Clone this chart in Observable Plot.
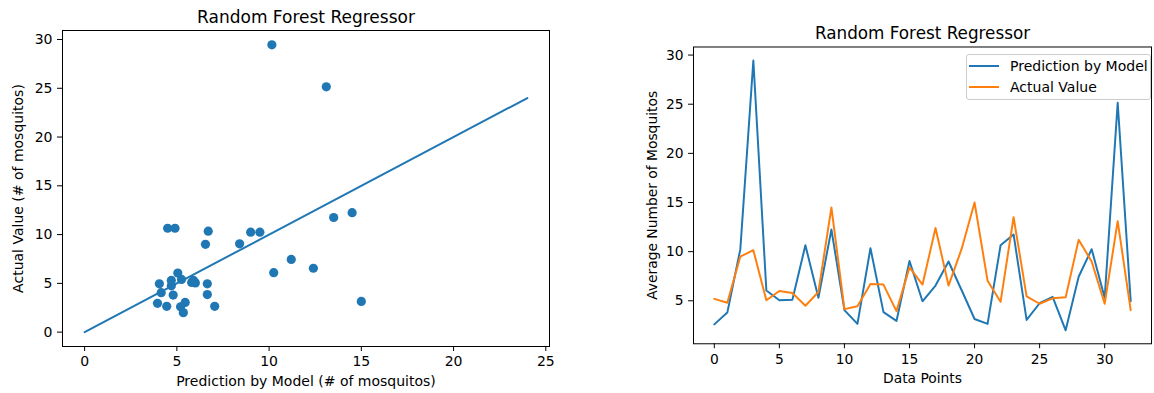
<!DOCTYPE html>
<html><head><meta charset="utf-8">
<script src="https://cdn.jsdelivr.net/npm/d3@7"></script>
<script src="https://cdn.jsdelivr.net/npm/@observablehq/plot@0.6"></script>
<style>
html,body{margin:0;padding:0;background:#fff;width:1154px;height:393px;overflow:hidden;}
#wrap{position:relative;width:1154px;height:393px;overflow:hidden;font-family:"DejaVu Sans",sans-serif;}
#left{position:absolute;left:0;top:0;}
#right{position:absolute;left:600px;top:0;}
#legend{position:absolute;left:966px;top:54px;width:185px;height:46px;box-sizing:border-box;border:1px solid #cccccc;border-radius:3px;background:rgba(255,255,255,0.8);font-size:14px;color:#000;}
.item{position:absolute;left:2px;height:20px;display:flex;align-items:center;white-space:nowrap;}
.item svg{margin-right:11px;}
</style></head>
<body><div id="wrap"><div id="left"></div><div id="right"></div><div id="legend"></div></div>
<script>
const title = "Random Forest Regressor";
const dataPoints = [0,1,2,3,4,5,6,7,8,9,10,11,12,13,14,15,16,17,18,19,20,21,22,23,24,25,26,27,28,29,30,31,32];
const prediction = [2.6,3.8,10.25,29.45,6.05,5.05,5.1,10.65,5.3,12.25,4.05,2.65,10.35,3.85,2.95,9.05,4.95,6.55,9.0,6.1,3.15,2.65,10.65,11.75,3.05,4.75,5.4,2.0,7.45,10.25,5.3,25.15,4.95];
const actual = [5.2,4.8,9.5,10.15,5.05,6.0,5.8,4.5,5.9,14.5,4.15,4.45,6.7,6.65,3.95,8.4,6.65,12.4,6.55,10.25,15.0,7.05,4.9,13.5,5.45,4.7,5.25,5.35,11.2,9.0,4.7,13.1,4.05];
const seriesNames = ["Prediction by Model", "Actual Value"];
const seriesColors = ["#1f77b4", "#ff7f0e"];
const identityX = [0, 24];
const identityY = [0, 24];
const scatterXTicks = [0,5,10,15,20,25];
const scatterYTicks = [0,5,10,15,20,25,30];
const lineXTicks = [0,5,10,15,20,25,30];
const lineYTicks = [5,10,15,20,25,30];

const pad = (vals) => { const [a,b] = d3.extent(vals); const r = b - a; return [a - 0.05*r, b + 0.05*r]; };
const baseStyle = {fontFamily: "DejaVu Sans", fontSize: "14px", color: "#000", background: "transparent", overflow: "visible"};

const scatterData = actual.map((v, i) => ({x: v, y: prediction[i]}));
const identityData = identityX.map((v, i) => ({x: v, y: identityY[i]}));

const left = Plot.plot({
  width: 600, height: 393,
  marginLeft: 62, marginRight: 51, marginTop: 30, marginBottom: 47,
  style: baseStyle,
  x: {domain: pad([...actual, ...identityX]), nice: false},
  y: {domain: pad([...prediction, ...identityY]), nice: false},
  marks: [
    Plot.axisX({ticks: scatterXTicks, tickSize: 5, tickPadding: 5, stroke: "#000", label: "Prediction by Model (# of mosquitos)", labelAnchor: "center", labelOffset: 39, labelArrow: "none"}),
    Plot.axisY({ticks: scatterYTicks, tickSize: 5, tickPadding: 5, stroke: "#000", label: "Actual Value (# of mosquitos)", labelAnchor: "center", labelOffset: 49, labelArrow: "none"}),
    Plot.line(identityData, {x: "x", y: "y", stroke: seriesColors[0], strokeWidth: 2}),
    Plot.dot(scatterData, {x: "x", y: "y", r: 4.6, fill: seriesColors[0], stroke: null}),
    Plot.frame({stroke: "#000", strokeWidth: 1}),
    Plot.text([title], {frameAnchor: "top", lineAnchor: "bottom", dy: -8, fontSize: 17, fill: "#000"})
  ]
});
document.getElementById("left").append(left);

const right = Plot.plot({
  width: 560, height: 393,
  marginLeft: 94, marginRight: 3, marginTop: 47, marginBottom: 46,
  style: baseStyle,
  x: {domain: pad(dataPoints), nice: false},
  y: {domain: pad([...prediction, ...actual]), nice: false},
  marks: [
    Plot.axisX({ticks: lineXTicks, tickSize: 5, tickPadding: 5, stroke: "#000", label: "Data Points", labelAnchor: "center", labelOffset: 40, labelArrow: "none"}),
    Plot.axisY({ticks: lineYTicks, tickSize: 5, tickPadding: 5, stroke: "#000", label: "Average Number of Mosquitos", labelAnchor: "center", labelOffset: 47, labelArrow: "none"}),
    Plot.lineY(prediction, {x: dataPoints, stroke: seriesColors[0], strokeWidth: 2}),
    Plot.lineY(actual, {x: dataPoints, stroke: seriesColors[1], strokeWidth: 2}),
    Plot.frame({stroke: "#000", strokeWidth: 1}),
    Plot.text([title], {frameAnchor: "top", lineAnchor: "bottom", dy: -8, fontSize: 17, fill: "#000"})
  ]
});
document.getElementById("right").append(right);

const legend = document.getElementById("legend");
seriesNames.forEach((name, i) => {
  const item = document.createElement("div");
  item.className = "item";
  item.style.top = (1 + i * 20.5) + "px";
  item.innerHTML = `<svg width="30" height="4"><line x1="0" x2="30" y1="2" y2="2" stroke="${seriesColors[i]}" stroke-width="2"/></svg><span>${name}</span>`;
  legend.append(item);
});
</script>
</body></html>
